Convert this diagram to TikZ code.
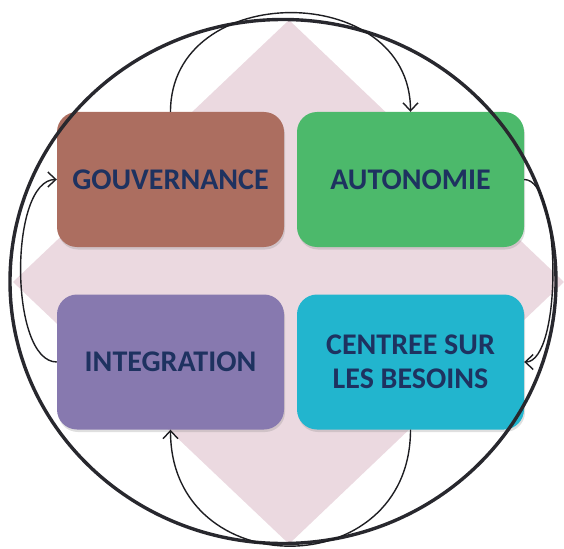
\documentclass[tikz,border=0pt]{standalone}
\usepackage{fontspec}
\setmainfont{Carlito}
\usetikzlibrary{arrows.meta,shadows}

\definecolor{govbrown}{RGB}{172,110,96}
\definecolor{autgreen}{RGB}{76,185,107}
\definecolor{intpurple}{RGB}{135,121,175}
\definecolor{cencyan}{RGB}{34,181,206}
\definecolor{labelnavy}{RGB}{30,50,96}
\definecolor{diamondpink}{RGB}{235,217,224}
\definecolor{ringgray}{RGB}{40,40,46}
\definecolor{loopgray}{RGB}{30,30,34}

\tikzset{
  pillar/.style={rounded corners=20pt, minimum width=227pt, minimum height=135pt,
    inner sep=0pt, align=center, text=labelnavy,
    font=\fontsize{30}{36}\selectfont\bfseries,
    drop shadow={shadow xshift=1pt, shadow yshift=-2.5pt, opacity=.25}},
  loop/.style={draw=loopgray, line width=1.4pt,
    -{Straight Barb[length=8pt,width=15pt,line width=1.4pt]}},
  ring/.style={draw=ringgray, line width=3.4pt}
}

\begin{document}
\begin{tikzpicture}[x=1pt,y=-1pt]
  \useasboundingbox (0,0) rectangle (564,548);

  % background diamond
  \fill[diamondpink] (289,20) -- (564,282) -- (289,544) -- (13,282) -- cycle;

  % the four pillars
  \node[pillar, fill=govbrown]  (gov) at (170.5,179.5) {GOUVERNANCE};
  \node[pillar, fill=autgreen]  (aut) at (410.5,179.5) {AUTONOMIE};
  \node[pillar, fill=intpurple] (int) at (170.5,362)   {INTEGRATION};
  \node[pillar, fill=cencyan]   (cen) at (410.5,362)   {CENTREE SUR\\[-2pt]LES BESOINS};

  % outer ring
  \draw[ring] (283,281.5) ellipse[x radius=273, y radius=262];

  % cycle loops between the pillars
  \draw[loop] (gov.north) .. controls +(0,-132) and +(0,-132) .. (aut.north);
  \draw[loop] (aut.east)  .. controls +(38,0)   and +(38,0)   .. (cen.east);
  \draw[loop] (cen.south) .. controls +(0,155)  and +(0,155)  .. (int.south);
  \draw[loop] (int.west)  .. controls +(-48,0)  and +(-48,0)  .. (gov.west);
\end{tikzpicture}
\end{document}
